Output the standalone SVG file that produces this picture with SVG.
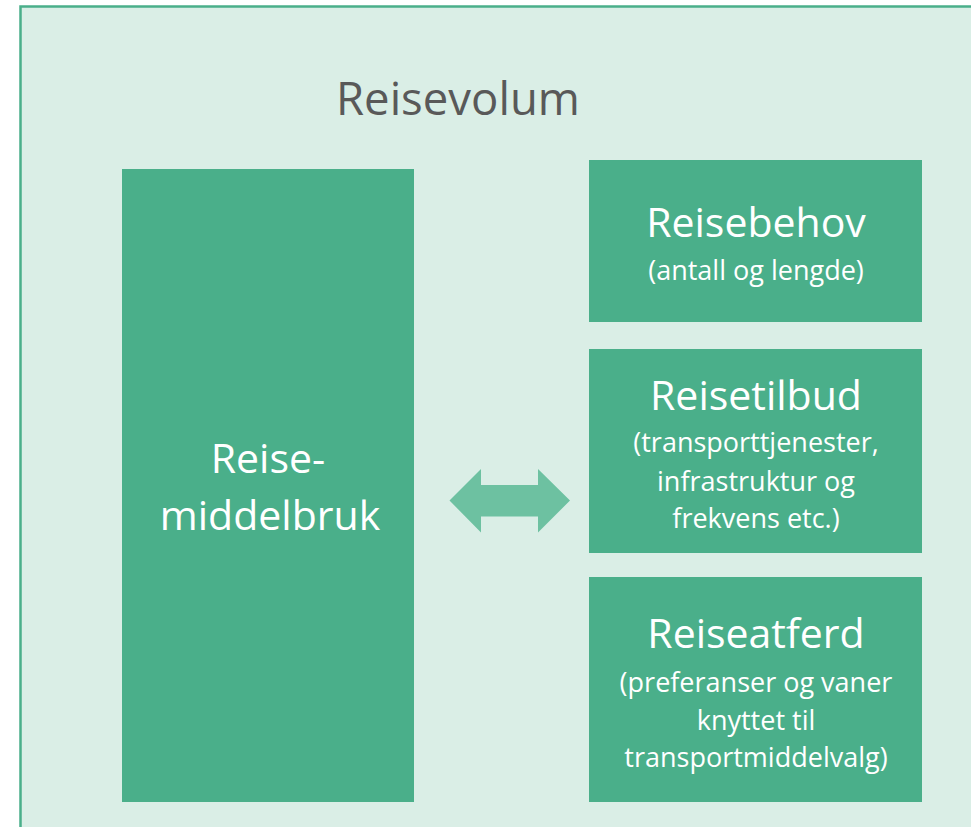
<svg xmlns="http://www.w3.org/2000/svg" width="971" height="827" viewBox="0 0 971 827">
<style>
.box{fill:#4aaf8a}
.t{font-family:"Open Sans","Noto Sans","Liberation Sans",sans-serif;fill:#ffffff;text-anchor:middle}
.h{font-size:41px}
.s{font-size:27px}
</style>
<rect x="0" y="0" width="971" height="827" fill="#ffffff"/>
<rect x="20.5" y="6.5" width="960" height="830" fill="#daeee6" stroke="#4aaf8a" stroke-width="2.5"/>
<text x="458" y="115" font-family="'Open Sans','Noto Sans','Liberation Sans',sans-serif" font-size="45" fill="#595959" text-anchor="middle" textLength="244" lengthAdjust="spacingAndGlyphs">Reisevolum</text>
<g id="reisemiddelbruk">
<rect class="box" x="122" y="169" width="292" height="633"/>
<text class="t h" x="268" y="473">Reise-</text>
<text class="t h" x="270" y="530">middelbruk</text>
</g>
<g id="reisebehov">
<rect class="box" x="589" y="160" width="333" height="162"/>
<text class="t h" x="756" y="237">Reisebehov</text>
<text class="t s" x="756" y="280">(antall og lengde)</text>
</g>
<g id="reisetilbud">
<rect class="box" x="589" y="349" width="333" height="204"/>
<text class="t h" x="756" y="410">Reisetilbud</text>
<text class="t s" x="756" y="452">(transporttjenester,</text>
<text class="t s" x="756" y="491">infrastruktur og</text>
<text class="t s" x="756" y="528">frekvens etc.)</text>
</g>
<g id="reiseatferd">
<rect class="box" x="589" y="577" width="333" height="225"/>
<text class="t h" x="756" y="648">Reiseatferd</text>
<text class="t s" x="756" y="692">(preferanser og vaner</text>
<text class="t s" x="756" y="730">knyttet til</text>
<text class="t s" x="756" y="767">transportmiddelvalg)</text>
</g>
<g id="connectors">
<polygon points="449.5,500.5 481,469 481,485 538,485 538,469 570,500.5 538,532.5 538,516.5 481,516.5 481,532.5" fill="#6dc1a1"/>
</g>
</svg>
